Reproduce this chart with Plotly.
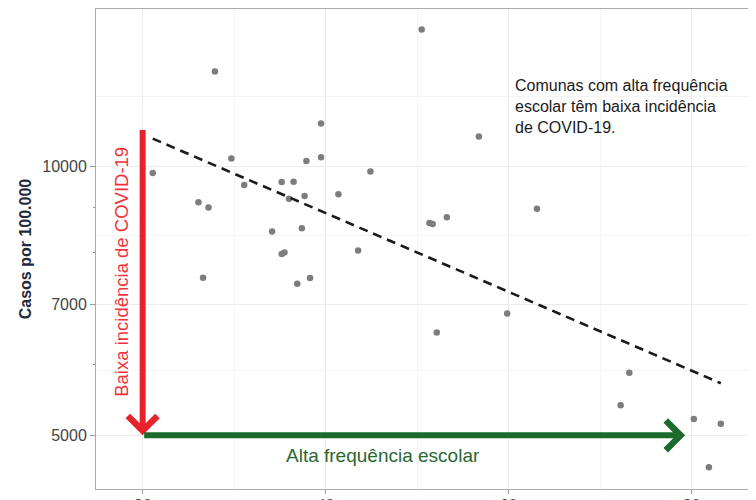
import numpy as np
import plotly.graph_objects as go

# ---- data ----
school_freq = [21.1, 26.1, 27.2, 26.6, 27.9, 29.7, 31.1, 34.15, 35.2, 35.5, 35.2, 36.5,
               36.0, 36.9, 37.4, 37.7, 37.9, 38.3, 39.5, 39.5, 41.4, 43.55, 44.9, 50.5,
               51.35, 51.7, 53.25, 56.75, 63.1, 52.15, 59.85, 73.2, 72.25, 80.25, 83.2, 81.9]
cases_per_100k = [9826, 9110, 8992, 7503, 12757, 10195, 9526, 8453, 7975, 8008, 9601, 9607,
                  9196, 7388, 8519, 9261, 10130, 7497, 11157, 10231, 9299, 8045, 9859, 14218,
                  8639, 8617, 8764, 10791, 8962, 6514, 6843, 5876, 5403, 5215, 5152, 4605]
trend_x = [21.1, 83.2]
trend_y = [10734, 5718]

x_ticks = [20, 40, 60, 80]
y_ticks = [5000, 7000, 10000]
y_ticklabels = ["5000", "7000", "10000"]
y_logticks = [6000, 8000, 9000]

# derived minor grid (midpoints in log space, like ggplot)
ly = np.log10(y_ticks)
y_minor_grid = list(10 ** ((ly[:-1] + ly[1:]) / 2)) + [10 ** (ly[-1] + (ly[-1] - ly[-2]) / 2)]
x_minor_grid = [30, 50, 70]

FONT = "Liberation Sans, Arial, sans-serif"
GRID = "#ececec"
GRID_MINOR = "#f4f4f4"
BORDER = "#ababab"

fig = go.Figure()

fig.add_trace(go.Scatter(
    x=school_freq, y=cases_per_100k, mode="markers",
    marker=dict(size=6.5, color="#7d7d7d"), showlegend=False))

fig.add_trace(go.Scatter(
    x=trend_x, y=trend_y, mode="lines",
    line=dict(color="#1a1a1a", width=2.6, dash="9px,6px"), showlegend=False))

# red vertical arrow (low incidence)
fig.add_annotation(x=20, y=np.log10(5000), ax=20, ay=np.log10(11015),
                   xref="x", yref="y", axref="x", ayref="y", text="",
                   showarrow=True, arrowhead=4, arrowsize=0.95, arrowwidth=6,
                   arrowcolor="#e8222b")
# green horizontal arrow (high school attendance)
fig.add_annotation(x=79.3, y=np.log10(5000), ax=20, ay=np.log10(5000),
                   xref="x", yref="y", axref="x", ayref="y", text="",
                   showarrow=True, arrowhead=4, arrowsize=0.95, arrowwidth=6,
                   arrowcolor="#1c6b2c")

fig.add_annotation(x=17.75, y=np.log10(7620), xref="x", yref="y",
                   text="Baixa incidência de COVID-19", textangle=-90, showarrow=False,
                   font=dict(family=FONT, size=18.5, color="#f2313b"))
fig.add_annotation(x=46.3, y=np.log10(4753), xref="x", yref="y",
                   text="Alta frequência escolar", showarrow=False,
                   font=dict(family=FONT, size=19, color="#2a6733"))
fig.add_annotation(x=60.5, y=np.log10(11660), xref="x", yref="y",
                   xanchor="left", yanchor="middle", align="left",
                   text="Comunas com alta frequência<br>escolar têm baixa incidência<br>de COVID-19.",
                   showarrow=False, font=dict(family=FONT, size=16, color="#1a1a1a"))

# page body has an 8px default margin: the figure is sized to the visible area
fig.update_layout(
    width=748, height=492,
    margin=dict(l=88, r=5, t=1, b=11),
    paper_bgcolor="white", plot_bgcolor="white",
    font=dict(family=FONT),
    showlegend=False,
    xaxis=dict(
        range=[14.9, 86.5], tickmode="array", tickvals=x_ticks,
        ticks="outside", ticklen=4, tickcolor="#999999", ticklabelstandoff=-2,
        tickfont=dict(family=FONT, size=16, color="#444444"),
        showgrid=True, gridcolor=GRID, gridwidth=1,
        minor=dict(tickmode="array", tickvals=x_minor_grid, showgrid=True,
                   gridcolor=GRID_MINOR, gridwidth=1, ticks=""),
        showline=True, linecolor=BORDER, linewidth=1, mirror=True,
        zeroline=False, automargin=False),
    yaxis=dict(
        type="log", range=[np.log10(4355), np.log10(14985)],
        tickmode="array", tickvals=y_ticks, ticktext=y_ticklabels,
        ticks="outside", ticklen=5, tickcolor="#999999",
        tickfont=dict(family=FONT, size=16, color="#444444"),
        showgrid=True, gridcolor=GRID, gridwidth=1,
        minor=dict(tickmode="array", tickvals=y_logticks, ticks="outside",
                   ticklen=2.5, tickcolor="#999999", showgrid=False),
        showline=True, linecolor=BORDER, linewidth=1, mirror=True,
        zeroline=False, automargin=False,
        title=dict(text="<b>Casos por 100.000</b>", standoff=6,
                   font=dict(family=FONT, size=16, color="#1f2a3a"))),
    yaxis2=dict(
        type="log", range=[np.log10(4355), np.log10(14985)], overlaying="y",
        tickmode="array", tickvals=y_minor_grid, showticklabels=False, ticks="",
        showgrid=True, gridcolor=GRID_MINOR, gridwidth=1, zeroline=False,
        showline=False, automargin=False),
)

# invisible trace to activate yaxis2 grid
fig.add_trace(go.Scatter(x=[school_freq[0]], y=[cases_per_100k[0]], yaxis="y2",
                         mode="markers", marker=dict(opacity=0), hoverinfo="skip",
                         showlegend=False))

fig.write_html("out.html")
